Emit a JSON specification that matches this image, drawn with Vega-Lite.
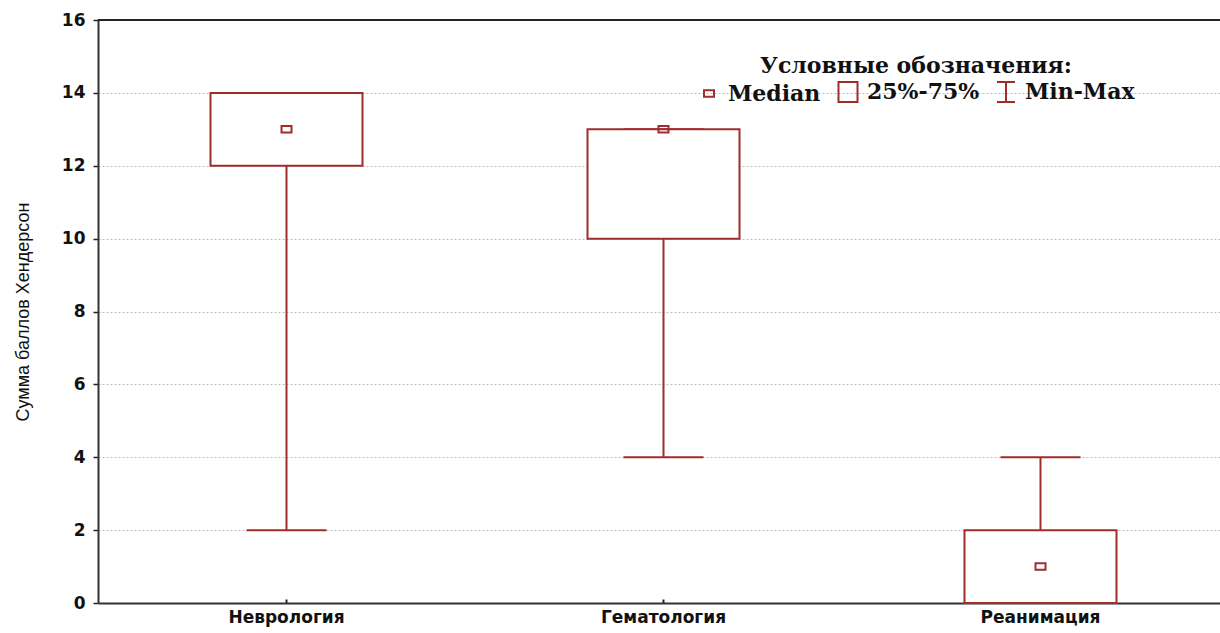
{
  "$schema": "https://vega.github.io/schema/vega-lite/v6.json",
  "width": 1122,
  "height": 583,
  "autosize": "none",
  "padding": {"left": 98, "top": 20, "right": 0, "bottom": 30},
  "background": "white",
  "config": {
    "view": {"stroke": null},
    "axis": {"domainColor": "#333333", "domainWidth": 2, "tickColor": "#222222", "labelColor": "#111111", "titleColor": "#111111"}
  },
  "data": {
    "values": [
      {"dept": "Неврология", "min": 2, "q1": 12, "median": 13, "q3": 14, "max": 14},
      {"dept": "Гематология", "min": 4, "q1": 10, "median": 13, "q3": 13, "max": 13},
      {"dept": "Реанимация", "min": 0, "q1": 0, "median": 1, "q3": 2, "max": 4}
    ]
  },
  "layer": [
    {
      "mark": {"type": "rule", "color": "#a02c2c", "strokeWidth": 2, "opacity": 1},
      "encoding": {
        "x": {
          "field": "dept", "type": "nominal", "sort": null,
          "scale": {"range": [0, 1131], "paddingInner": 0, "paddingOuter": 0},
          "axis": {"title": null, "labelAngle": 0, "labelFont": "DejaVu Sans", "labelFontWeight": "bold", "labelFontSize": 17, "labelPadding": 10, "tickSize": -4, "tickWidth": 2, "grid": false}
        },
        "y": {
          "field": "min", "type": "quantitative",
          "scale": {"domain": [0, 16], "nice": false, "zero": false},
          "axis": {"title": "Сумма баллов Хендерсон", "values": [0, 2, 4, 6, 8, 10, 12, 14, 16], "labelFont": "DejaVu Sans", "labelFontWeight": "bold", "labelFontSize": 17, "labelPadding": 8, "tickSize": 5, "tickWidth": 1.5, "grid": true, "gridColor": "#bbbbbb", "gridDash": [2, 2], "gridWidth": 1, "titleFont": "Liberation Sans", "titleFontWeight": "normal", "titleFontSize": 18, "titlePadding": 29}
        },
        "y2": {"field": "max"}
      }
    },
    {
      "mark": {"type": "tick", "color": "#a02c2c", "thickness": 2, "size": 80, "orient": "horizontal", "opacity": 1},
      "encoding": {
        "x": {"field": "dept", "type": "nominal", "sort": null},
        "y": {"field": "min", "type": "quantitative"}
      }
    },
    {
      "mark": {"type": "tick", "color": "#a02c2c", "thickness": 2, "size": 80, "orient": "horizontal", "opacity": 1},
      "encoding": {
        "x": {"field": "dept", "type": "nominal", "sort": null},
        "y": {"field": "max", "type": "quantitative"}
      }
    },
    {
      "mark": {"type": "bar", "fill": "white", "stroke": "#a02c2c", "strokeWidth": 2, "size": 152, "opacity": 1},
      "encoding": {
        "x": {"field": "dept", "type": "nominal", "sort": null},
        "y": {"field": "q1", "type": "quantitative"},
        "y2": {"field": "q3"}
      }
    },
    {
      "data": {"values": [{"top": 16}]},
      "mark": {"type": "rule", "color": "#222222", "strokeWidth": 2},
      "encoding": {"y": {"field": "top", "type": "quantitative"}}
    },
    {
      "mark": {"type": "point", "filled": false, "color": "#a02c2c", "strokeWidth": 2, "size": 400, "opacity": 1},
      "encoding": {
        "x": {"field": "dept", "type": "nominal", "sort": null},
        "y": {"field": "median", "type": "quantitative"},
        "shape": {
          "datum": "Median",
          "scale": {
            "domain": ["Median", "25%-75%", "Min-Max"],
            "range": ["M-0.5,-0.32H0.5V0.32H-0.5Z", "M-0.95,-1H0.95V1H-0.95Z", "M-0.9,-1H0.9M0,-1V1M-0.9,1H0.9"]
          },
          "legend": {
            "title": "Условные обозначения:",
            "orient": "none",
            "legendX": 600,
            "legendY": 36,
            "direction": "horizontal",
            "titleAnchor": "middle",
            "titleLimit": 1000,
            "labelLimit": 1000,
            "titleFont": "DejaVu Serif",
            "titleFontSize": 22,
            "titleFontWeight": "bold",
            "titleColor": "#111111",
            "titlePadding": 3,
            "labelFont": "DejaVu Serif",
            "labelFontSize": 22,
            "labelFontWeight": "bold",
            "labelColor": "#111111",
            "labelOffset": 8,
            "columnPadding": 13,
            "symbolSize": 400,
            "symbolStrokeWidth": 2,
            "symbolStrokeColor": "#a02c2c",
            "symbolFillColor": "white",
            "symbolOpacity": 1,
            "encode": {
              "symbols": {
                "update": {
                  "stroke": {"value": "#a02c2c"},
                  "strokeOpacity": {"value": 1},
                  "strokeWidth": {"value": 2},
                  "fill": {"value": "white"},
                  "fillOpacity": {"value": 1},
                  "opacity": {"value": 1},
                  "size": {"value": 400}
                }
              }
            }
          }
        }
      }
    }
  ]
}
